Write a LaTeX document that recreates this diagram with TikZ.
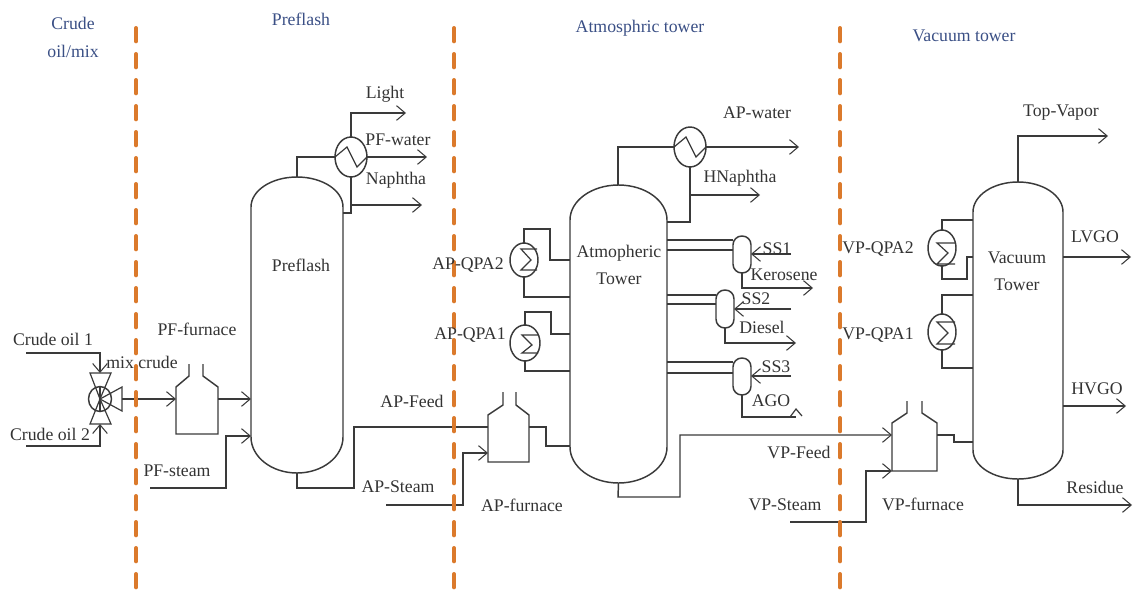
\documentclass[tikz,border=0pt]{standalone}
\usepackage{fontspec}
\setmainfont{Liberation Serif}
\usetikzlibrary{arrows.meta,shapes.geometric}
\definecolor{ink}{HTML}{3A3A3A}
\definecolor{cut}{HTML}{DB7A2C}
\definecolor{zone}{HTML}{3A4F85}
\tikzset{
  line/.style={draw=ink,line width=1.1pt,line join=miter},
  flow/.style={line,-{Straight Barb[length=6.5pt,width=11pt,line width=.8pt]}},
  thin part/.style={draw=ink,line width=.9pt},
  hold/.style={inner sep=0pt,outer sep=0pt,draw=none},
  sz/.style 2 args={minimum width=#1*0.75pt,minimum height=#2*0.75pt},
  exch/.style={ellipse,draw=ink,line width=1.1pt,inner sep=0pt,outer sep=0pt,fill=white},
  strip/.style={rectangle,draw=ink,line width=1.1pt,inner sep=0pt,outer sep=0pt,rounded corners=6.6pt,fill=white},
  lab/.style={inner sep=0pt,outer sep=0pt,text=black!80,font=\fontsize{13.3}{15}\selectfont},
  zonelab/.style={inner sep=0pt,outer sep=0pt,text=zone,align=center,font=\fontsize{13.3}{21}\selectfont},
  cutline/.style={draw=cut,line width=3pt,line cap=round,dash pattern=on 10pt off 9.5pt},
}
% name, xl, xr, yt, yb, top-dome height, bottom-dome height
\newcommand\vessel[7]{%
  \pgfmathsetmacro\vxc{(#2+#3)/2}%
  \pgfmathsetmacro\vym{(#4+#5)/2}%
  \pgfmathsetmacro\vw{#3-#2}%
  \pgfmathsetmacro\vh{#5-#4}%
  \pgfmathsetmacro\vkx{\vw/2*0.5523}%
  \pgfmathsetmacro\vkt{#6*0.5523}%
  \pgfmathsetmacro\vkb{#7*0.5523}%
  \pgfmathsetmacro\vyt{#4+#6}%
  \pgfmathsetmacro\vyb{#5-#7}%
  \node[hold,sz={\vw}{\vh}] (#1) at (\vxc,\vym) {};
  \draw[line] (#2,\vyt) .. controls (#2,\vyt-\vkt) and (\vxc-\vkx,#4) .. (#1.north)
    .. controls (\vxc+\vkx,#4) and (#3,\vyt-\vkt) .. (#3,\vyt)
    -- (#3,\vyb) .. controls (#3,\vyb+\vkb) and (\vxc+\vkx,#5) .. (#1.south)
    .. controls (\vxc-\vkx,#5) and (#2,\vyb+\vkb) .. (#2,\vyb) -- cycle;
}
% name, xl, xr, yshoulder, ybottom, neck-left, neck-right, yneck, ytop
\newcommand\furnace[9]{%
  \pgfmathsetmacro\vxc{(#2+#3)/2}%
  \pgfmathsetmacro\vym{(#4+#5)/2}%
  \pgfmathsetmacro\vw{#3-#2}%
  \pgfmathsetmacro\vh{#5-#4}%
  \node[hold,sz={\vw}{\vh}] (#1) at (\vxc,\vym) {};
  \draw[line] (#7,#9) -- (#7,#8) -- (#1.north east) -- (#1.south east)
    -- (#1.south west) -- (#1.north west) -- (#6,#8) -- (#6,#9);
}
\begin{document}
\begin{tikzpicture}[x=0.75pt,y=-0.75pt]
\useasboundingbox (0,0) rectangle (1135,593);

% ---- equipment
\vessel{pf}{251}{343}{177}{473}{30}{36}
\vessel{at}{570}{667}{185}{483}{35}{36}
\vessel{vt}{973}{1063}{182}{479}{30}{29}
\furnace{pff}{176}{218}{387}{434}{189}{203}{376}{364}
\furnace{apf}{488}{529}{415}{462}{503}{516}{405}{392}
\furnace{vpf}{892}{937}{423}{471}{907}{922}{413}{401}

\node[exch,sz={32}{40}] (pfc) at (351,157) {};
\node[exch,sz={32}{40}] (apc) at (690,147) {};
\node[exch,sz={28}{34}] (q2) at (524,260) {};
\node[exch,sz={30}{36}] (q1) at (525,343) {};
\node[exch,sz={28}{36}] (v2) at (942,248) {};
\node[exch,sz={28}{36}] (v1) at (942,332) {};
\node[strip,sz={18}{37}] (s1) at (742,254.5) {};
\node[strip,sz={18}{38}] (s2) at (725,309) {};
\node[strip,sz={18}{37}] (s3) at (742,376.5) {};

% valve
\node[exch,sz={23}{25},fill=none] (vlv) at (100,399) {};
\coordinate (vtop) at (100,373);
\coordinate (vbot) at (100,424);
\coordinate (vright) at (122,399);
\draw[thin part] (vlv.center) -- (90,373) -- (111,373) -- cycle;
\draw[thin part] (vlv.center) -- (90,424) -- (111,424) -- cycle;
\draw[thin part] (vlv.center) -- (122,387) -- (122,411) -- cycle;
\draw[thin part] (vlv.north) -- (vlv.south);

% inner coils
\draw[thin part] (pfc.west) -- (347,147) -- (357,167) -- (pfc.east);
\draw[thin part] (apc.west) -- (686,137) -- (696,157) -- (apc.east);
\draw[thin part] (537,249) -- (521,249) -- (531,260) -- (521,270) -- (537,270);
\draw[thin part] (538,335) -- (522,335) -- (532,345) -- (522,353) -- (538,353);
\draw[thin part] (955,243) -- (937,243) -- (948,253) -- (937,264) -- (955,264);
\draw[thin part] (955,322) -- (937,322) -- (948,333) -- (937,344) -- (955,344);

% ---- free ends
\coordinate (c1) at (26,353);
\coordinate (c2) at (26,446);
\coordinate (pfst) at (150,488);
\coordinate (apst) at (386,505);
\coordinate (vpst) at (790,522);
\coordinate (lightE) at (406,113);
\coordinate (pfwE) at (427,157);
\coordinate (napE) at (422,205);
\coordinate (apwE) at (799,147);
\coordinate (hnE) at (760,195);
\coordinate (ss1) at (791,254);
\coordinate (ss2) at (791,309);
\coordinate (ss3) at (791,376);
\coordinate (kerE) at (813,288);
\coordinate (dieE) at (796,343);
\coordinate (agoE) at (796,417);
\coordinate (topE) at (1108,136);
\coordinate (lvE) at (1131,257);
\coordinate (hvE) at (1126,406);
\coordinate (resE) at (1132,505);

% ---- crude / preflash
\draw[flow] (c1) -| (vtop);
\draw[flow] (c2) -| (vbot);
\draw[flow] (vright) -- (pff.west |- vright);
\draw[flow] (pff.east |- 0,399) -- (pf.west |- 0,399);
\draw[flow] (pfst) -- (226,488) -- (226,436) -- (pf.west |- 0,436);
\draw[line] (pf.north) -- (297,157) -- (pfc.west);
\draw[flow] (pfc.north) |- (lightE);
\draw[flow] (pfc.east) -- (pfwE);
\draw[line] (pfc.south) -- (351,213) -- (pf.east |- 0,213);
\draw[flow] (351,205) -- (napE);

% ---- preflash -> atmospheric
\draw[line] (pf.south) -- (297,488) -- (354,488) -- (354,427) -- (apf.west |- 0,427);
\draw[line] (apf.east |- 0,427) -- (546,427) -- (546,446) -- (at.west |- 0,446);
\draw[flow] (apst) -- (463,505) -- (463,453) -- (apf.west |- 0,453);

% ---- atmospheric tower
\draw[line] (618,185) -- (618,147) -- (apc.west);
\draw[flow] (apc.east) -- (apwE);
\draw[line] (apc.south) -- (690,222) -- (at.east |- 0,222);
\draw[flow] (690,195) -- (hnE);
\draw[line] (q2.north) -- (524,229) -- (550,229) -- (550,260) -- (at.west |- 0,260);
\draw[line] (q2.south) -- (524,297) -- (at.west |- 0,297);
\draw[line] (q1.north) -- (525,312) -- (551,312) -- (551,334) -- (at.west |- 0,334);
\draw[line] (q1.south) -- (525,371) -- (at.west |- 0,371);

\draw[line] (at.east |- 0,240) -- (s1.west |- 0,240);
\draw[line] (at.east |- 0,250) -- (s1.west |- 0,250);
\draw[line] (at.east |- 0,295) -- (s2.west |- 0,295);
\draw[line] (at.east |- 0,304) -- (s2.west |- 0,304);
\draw[line] (at.east |- 0,362) -- (s3.west |- 0,362);
\draw[line] (at.east |- 0,373) -- (s3.west |- 0,373);
\draw[flow] (ss1) -- (s1.east |- ss1);
\draw[flow] (ss2) -- (s2.east |- ss2);
\draw[flow] (ss3) -- (s3.east |- ss3);
\draw[flow] (s1.south) |- (kerE);
\draw[flow] (s2.south) |- (dieE);
\draw[line] (s3.south) |- (agoE);
\draw[thin part] (790,417) -- (796,409) -- (802,416);

% ---- atmospheric -> vacuum
\draw[flow] (at.south) -- (618,497) -- (680,497) -- (680,435) -- (vpf.west |- 0,435);
\draw[line] (vpf.east |- 0,435) -- (954,435) -- (954,442) -- (vt.west |- 0,442);
\draw[flow] (vpst) -- (866,522) -- (866,471) -- (vpf.west |- 0,471);

% ---- vacuum tower
\draw[flow] (vt.north) |- (topE);
\draw[flow] (vt.east |- lvE) -- (lvE);
\draw[flow] (vt.east |- hvE) -- (hvE);
\draw[flow] (vt.south) |- (resE);
\draw[line] (v2.north) -- (942,220) -- (vt.west |- 0,220);
\draw[line] (v2.south) -- (942,279) -- (967,279) -- (967,257) -- (vt.west |- 0,257);
\draw[line] (v1.north) -- (942,295) -- (vt.west |- 0,295);
\draw[line] (v1.south) -- (942,368) -- (vt.west |- 0,368);

% ---- section boundaries
\coordinate (d1t) at (136,28); \coordinate (d1b) at (136,590);
\coordinate (d2t) at (454,28); \coordinate (d2b) at (454,590);
\coordinate (d3t) at (840,28); \coordinate (d3b) at (840,590);
\draw[cutline] (d1t) -- (d1b);
\draw[cutline] (d2t) -- (d2b);
\draw[cutline] (d3t) -- (d3b);

% ---- labels
\node[zonelab] (z1) at (73,37) {Crude\\oil/mix};
\node[zonelab] (z2) at (301,19) {Preflash};
\node[zonelab] (z3) at (640,28) {Atmosphric tower};
\node[zonelab] (z4) at (964,36) {Vacuum tower};

\node[lab] (t1) at (53,339) {Crude oil 1};
\node[lab] (t2) at (50,434) {Crude oil 2};
\node[lab] (t3) at (142,362) {mix crude};
\node[lab] (t4) at (197,329) {PF-furnace};
\node[lab] (t5) at (177,471) {PF-steam};
\node[lab] (t6) at (385,94) {Light};
\node[lab] (t7) at (398,140) {PF-water};
\node[lab] (t8) at (396,180) {Naphtha};
\node[lab] (t9) at (301,265) {Preflash};
\node[lab] (t10) at (412,401) {AP-Feed};
\node[lab] (t11) at (398,487) {AP-Steam};
\node[lab] (t12) at (522,505) {AP-furnace};
\node[lab] (t13) at (468,265) {AP-QPA2};
\node[lab] (t14) at (470,335) {AP-QPA1};
\node[lab] (t15) at (619,253) {Atmopheric};
\node[lab] (t16) at (619,279) {Tower};
\node[lab] (t17) at (777,249) {SS1};
\node[lab] (t18) at (784,275) {Kerosene};
\node[lab] (t19) at (756,299) {SS2};
\node[lab] (t20) at (762,327) {Diesel};
\node[lab] (t21) at (776,367) {SS3};
\node[lab] (t22) at (771,401) {AGO};
\node[lab] (t23) at (757,113) {AP-water};
\node[lab] (t24) at (740,178) {HNaphtha};
\node[lab] (t25) at (1061,113) {Top-Vapor};
\node[lab] (t26) at (878,249) {VP-QPA2};
\node[lab] (t27) at (878,335) {VP-QPA1};
\node[lab] (t28) at (1017,258) {Vacuum};
\node[lab] (t29) at (1017,285) {Tower};
\node[lab] (t30) at (1095,237) {LVGO};
\node[lab] (t31) at (1097,389) {HVGO};
\node[lab] (t32) at (1095,487) {Residue};
\node[lab] (t33) at (799,452) {VP-Feed};
\node[lab] (t34) at (785,505) {VP-Steam};
\node[lab] (t35) at (923,504) {VP-furnace};
\end{tikzpicture}
\end{document}
